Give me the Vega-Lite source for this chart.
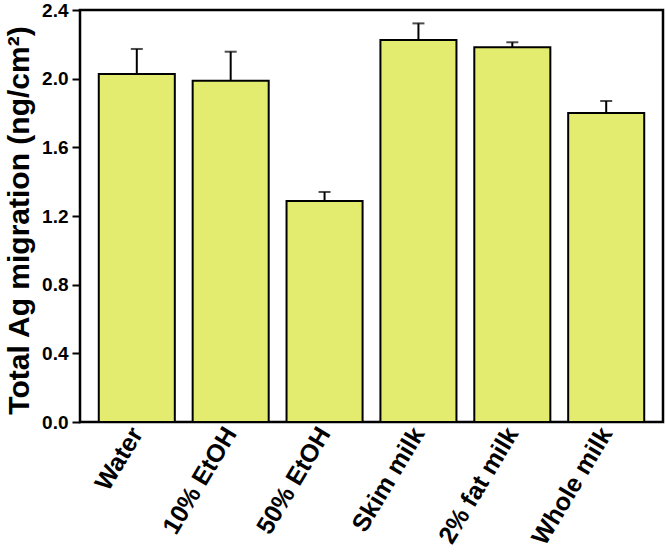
{
  "$schema": "https://vega.github.io/schema/vega-lite/v6.json",
  "width": 583,
  "height": 412,
  "autosize": {"type": "none"},
  "padding": {"left": 80, "top": 10, "right": 3, "bottom": 136},
  "background": "white",
  "config": {
    "view": {"stroke": "black", "strokeWidth": 2.5},
    "font": "Liberation Sans",
    "axis": {"grid": false, "domain": false}
  },
  "data": {
    "values": [
      {"medium": "Water", "value": 2.027, "upper": 2.173},
      {"medium": "10% EtOH", "value": 1.988, "upper": 2.157},
      {"medium": "50% EtOH", "value": 1.287, "upper": 1.340},
      {"medium": "Skim milk", "value": 2.225, "upper": 2.322},
      {"medium": "2% fat milk", "value": 2.183, "upper": 2.212},
      {"medium": "Whole milk", "value": 1.800, "upper": 1.870}
    ]
  },
  "encoding": {
    "x": {
      "field": "medium", "type": "nominal", "sort": null,
      "scale": {"paddingInner": 0.19, "paddingOuter": 0.2},
      "axis": {
        "title": null, "labelAngle": -59, "labelFontSize": 25, "labelFontWeight": "bold",
        "labelColor": "black", "ticks": false, "labelPadding": 7, "labelLimit": 300
      }
    }
  },
  "layer": [
    {
      "mark": {"type": "rule", "stroke": "black", "strokeWidth": 2},
      "encoding": {
        "y": {"field": "value", "type": "quantitative"},
        "y2": {"field": "upper"}
      }
    },
    {
      "mark": {"type": "tick", "orient": "horizontal", "size": 12, "thickness": 2, "color": "black"},
      "encoding": {
        "y": {"field": "upper", "type": "quantitative"}
      }
    },
    {
      "mark": {"type": "bar", "fill": "#E3EC6E", "stroke": "black", "strokeWidth": 2},
      "encoding": {
        "y": {
          "field": "value", "type": "quantitative",
          "scale": {"domain": [0, 2.4], "nice": false, "zero": true},
          "axis": {
            "title": "Total Ag migration (ng/cm²)", "values": [0, 0.4, 0.8, 1.2, 1.6, 2.0, 2.4],
            "format": ".1f", "labelFontSize": 19, "labelFontWeight": "bold", "labelColor": "black",
            "tickColor": "black", "tickWidth": 2, "tickSize": 8, "labelPadding": 4,
            "titleFontSize": 30, "titleFontWeight": "bold", "titleColor": "black", "titlePadding": 7,
            "titleY": 210
          }
        }
      }
    }
  ]
}
